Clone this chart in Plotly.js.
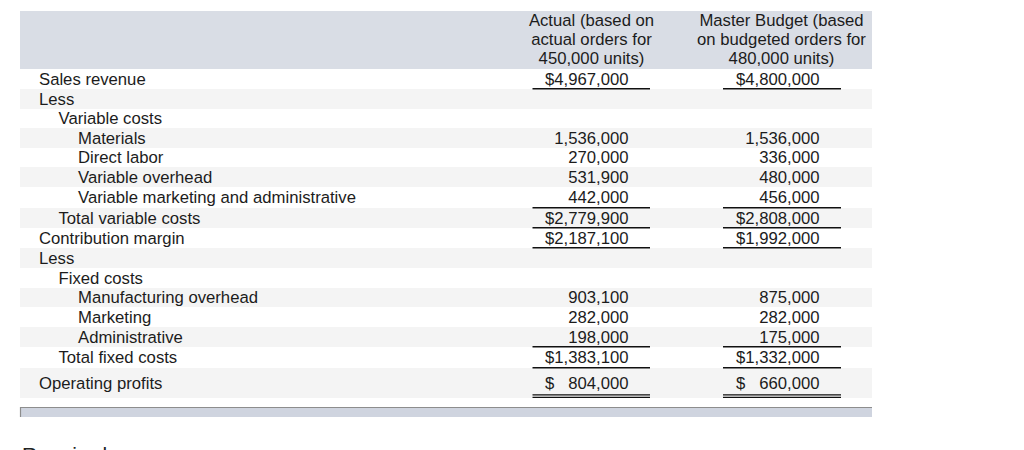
<!DOCTYPE html>
<html>
<head>
<meta charset="utf-8">
<script src="https://cdn.plot.ly/plotly-3.0.1.min.js"></script>
<style>
  html, body { margin: 0; padding: 0; background: #ffffff; }
  #chart { width: 1024px; height: 450px; }
</style>
</head>
<body>
<div id="chart"></div>
<script>
// ---------------- data ----------------
const headerActual = ["Actual (based on", "actual orders for", "450,000 units)"];
const headerBudget = ["Master Budget (based", "on budgeted orders for", "480,000 units)"];

const rowLabels = [
  "Sales revenue", "Less", "Variable costs", "Materials", "Direct labor",
  "Variable overhead", "Variable marketing and administrative", "Total variable costs",
  "Contribution margin", "Less", "Fixed costs", "Manufacturing overhead",
  "Marketing", "Administrative", "Total fixed costs", "Operating profits"
];
const rowIndent = [0, 0, 1, 2, 2, 2, 2, 1, 0, 0, 1, 2, 2, 2, 1, 0];
const actualValues = [4967000, null, null, 1536000, 270000, 531900, 442000, 2779900,
                      2187100, null, null, 903100, 282000, 198000, 1383100, 804000];
const budgetValues = [4800000, null, null, 1536000, 336000, 480000, 456000, 2808000,
                      1992000, null, null, 875000, 282000, 175000, 1332000, 660000];
const dollarSign  = [1, 0, 0, 0, 0, 0, 0, 1, 1, 0, 0, 0, 0, 0, 1, 1];
// 0 = none, 1 = single rule under the figure, 2 = double rule
const ruleBelow   = [1, 0, 0, 0, 0, 0, 1, 1, 1, 0, 0, 0, 0, 1, 1, 2];
const footerText  = "Required";

// ---------------- layout constants ----------------
const FONT = "Liberation Sans, Arial, Helvetica, sans-serif";
const FS = 16.7;
const TXT = "#1c1c1c";
const rowEdges = [69, 89, 109, 128, 148, 167, 187, 208, 228, 248, 268, 288, 307, 327, 347, 368, 398];
const tableLeft = 20, tableRight = 872;
const labelX0 = 39, indentStep = 19.5;
const colActual = {right: 628.5, center: 591.5, ruleL: 532.5, ruleR: 650};
const colBudget = {right: 819.5, center: 781.5, ruleL: 723, ruleR: 841};
const headerY = [22, 41, 60];

function fmt(v, dollar) {
  if (v === null) return "";
  const s = v.toLocaleString("en-US");
  if (!dollar) return s;
  // accounting style: pad so the $ aligns with the widest figures
  const pad = Math.max(0, 9 - s.length);
  return "$" + "\u00a0".repeat(Math.round(pad * 1.5)) + s;
}

const rowCenters = rowLabels.map((_, i) => (rowEdges[i] + rowEdges[i + 1]) / 2 + 1.6);

// ---------------- shapes ----------------
const shapes = [];
// header band
shapes.push({type: "rect", xref: "x", yref: "y", x0: tableLeft, x1: tableRight, y0: 11, y1: 69,
             fillcolor: "#d9dde5", line: {width: 0}, layer: "below"});
// zebra stripes
rowLabels.forEach((_, i) => {
  if (i % 2 === 1) {
    shapes.push({type: "rect", xref: "x", yref: "y", x0: tableLeft, x1: tableRight,
                 y0: rowEdges[i], y1: rowEdges[i + 1], fillcolor: "#f4f4f4",
                 line: {width: 0}, layer: "below"});
  }
});
// footer band
shapes.push({type: "rect", xref: "x", yref: "y", x0: tableLeft, x1: tableRight, y0: 407, y1: 417,
             fillcolor: "#cfd4df", line: {width: 0}, layer: "below"});
shapes.push({type: "line", xref: "x", yref: "y", x0: tableLeft, x1: tableRight, y0: 407.5, y1: 407.5,
             line: {color: "#8d8d8d", width: 1.2}});
shapes.push({type: "line", xref: "x", yref: "y", x0: tableLeft + 0.5, x1: tableLeft + 0.5, y0: 407, y1: 417,
             line: {color: "#8d8d8d", width: 1.2}});
// rules under figures
ruleBelow.forEach((r, i) => {
  if (!r) return;
  const yb = rowEdges[i + 1];
  [colActual, colBudget].forEach(c => {
    if (r === 1) {
      shapes.push({type: "line", xref: "x", yref: "y", x0: c.ruleL, x1: c.ruleR, y0: yb - 0.3, y1: yb - 0.3,
                   line: {color: "#111111", width: 1.6}});
    } else {
      shapes.push({type: "line", xref: "x", yref: "y", x0: c.ruleL, x1: c.ruleR, y0: yb - 3.2, y1: yb - 3.2,
                   line: {color: "#111111", width: 1.3}});
      shapes.push({type: "line", xref: "x", yref: "y", x0: c.ruleL, x1: c.ruleR, y0: yb - 0.6, y1: yb - 0.6,
                   line: {color: "#111111", width: 1.3}});
    }
  });
});

// ---------------- traces ----------------
const textFont = {family: FONT, size: FS, color: TXT};
const traces = [
  { // row labels
    type: "scatter", mode: "text", hoverinfo: "skip", cliponaxis: false,
    x: rowIndent.map(k => labelX0 + k * indentStep), y: rowCenters,
    text: rowLabels, textposition: "middle right", textfont: textFont
  },
  { // actual column
    type: "scatter", mode: "text", hoverinfo: "skip", cliponaxis: false,
    x: actualValues.map(() => colActual.right), y: rowCenters,
    text: actualValues.map((v, i) => fmt(v, dollarSign[i])),
    textposition: "middle left", textfont: textFont
  },
  { // budget column
    type: "scatter", mode: "text", hoverinfo: "skip", cliponaxis: false,
    x: budgetValues.map(() => colBudget.right), y: rowCenters,
    text: budgetValues.map((v, i) => fmt(v, dollarSign[i])),
    textposition: "middle left", textfont: textFont
  },
  { // header actual
    type: "scatter", mode: "text", hoverinfo: "skip", cliponaxis: false,
    x: headerActual.map(() => colActual.center), y: headerY,
    text: headerActual, textposition: "middle center", textfont: textFont
  },
  { // header budget
    type: "scatter", mode: "text", hoverinfo: "skip", cliponaxis: false,
    x: headerBudget.map(() => colBudget.center), y: headerY,
    text: headerBudget, textposition: "middle center", textfont: textFont
  }
];

const layout = {
  width: 1024, height: 450,
  margin: {l: 0, r: 0, t: 0, b: 0, pad: 0},
  paper_bgcolor: "#ffffff", plot_bgcolor: "#ffffff",
  showlegend: false,
  xaxis: {range: [0, 1024], visible: false, fixedrange: true},
  yaxis: {range: [450, 0], visible: false, fixedrange: true},
  shapes: shapes,
  annotations: [{
    xref: "paper", yref: "paper", x: 20 / 1024, y: 1 - 454 / 450,
    xanchor: "left", yanchor: "middle",
    text: footerText, showarrow: false,
    font: {family: FONT, size: 21, color: "#222222"}
  }]
};

Plotly.newPlot("chart", traces, layout, {displayModeBar: false, staticPlot: true});
</script>
</body>
</html>
